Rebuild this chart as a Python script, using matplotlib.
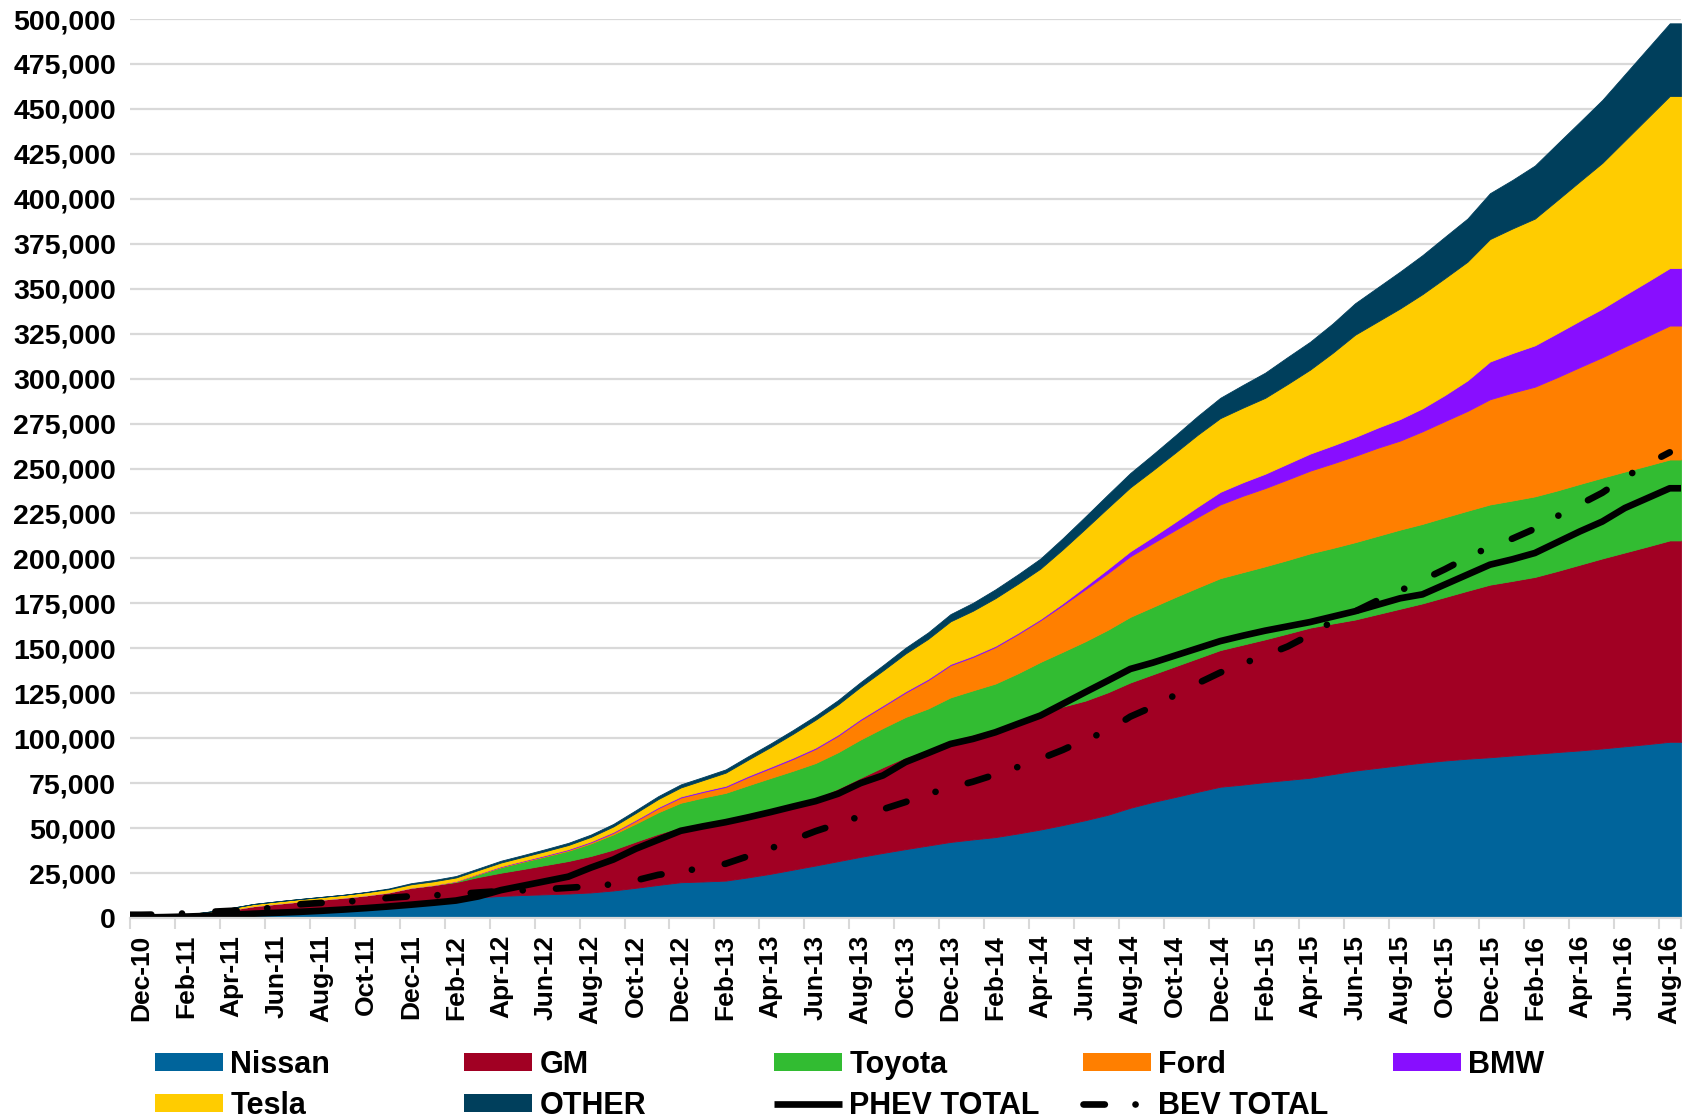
import numpy as np
import pandas as pd
import matplotlib
matplotlib.use("Agg")
import matplotlib.pyplot as plt
from matplotlib.patches import Patch
from matplotlib.lines import Line2D
from matplotlib.ticker import FuncFormatter

# ---------------- data (cumulative units sold, thousands) ----------------
months = pd.date_range("2010-12-01", "2016-08-01", freq="MS").strftime("%b-%y").tolist()

nissan = [0.1, 0.3, 0.6, 1.0, 1.5, 2.0, 2.5, 3.0, 3.6, 4.2,
          5.0, 6.0, 7.2, 8.3, 9.5, 11.5, 12.3, 12.8, 13.2, 13.6,
          14.2, 15.3, 16.8, 18.4, 19.9, 20.3, 20.8, 22.6, 24.6, 26.9,
          29.2, 31.6, 34.0, 36.2, 38.3, 40.3, 42.3, 43.7, 45.0, 47.0,
          49.2, 51.7, 54.4, 57.4, 61.3, 64.5, 67.3, 70.2, 73.0, 74.2,
          75.6, 76.8, 78.0, 80.0, 82.0, 83.5, 85.0, 86.4, 87.6, 88.6,
          89.4, 90.4, 91.3, 92.3, 93.2, 94.3, 95.5, 96.7, 98.0]
gm = [0.3, 0.5, 1.0, 1.9, 3.1, 4.6, 5.4, 6.1, 6.6, 7.1,
      7.6, 8.2, 9.6, 10.0, 10.5, 11.3, 12.9, 14.5, 16.3, 18.1,
      20.3, 22.7, 25.7, 28.4, 30.7, 32.7, 34.4, 35.4, 36.1, 36.6,
      37.6, 40.4, 44.0, 47.7, 51.1, 53.2, 56.4, 58.3, 60.2, 62.8,
      65.2, 65.9, 66.5, 68.1, 69.7, 71.0, 72.7, 74.3, 76.0, 77.8,
      79.4, 81.4, 83.5, 83.8, 84.0, 85.5, 87.0, 88.6, 90.9, 93.4,
      96.0, 97.1, 98.4, 100.7, 103.3, 105.7, 107.8, 109.9, 112.0]
toyota = [0, 0, 0, 0, 0, 0, 0, 0, 0, 0,
          0, 0, 0, 0, 0.3, 1.5, 3.0, 4.0, 4.8, 5.7,
          7.0, 8.5, 10.0, 12.0, 13.5, 14.0, 14.4, 15.8, 17.2, 18.4,
          19.4, 20.2, 21.3, 21.8, 22.4, 23.0, 24.0, 24.6, 25.2, 26.3,
          28.0, 30.5, 33.0, 34.8, 36.5, 37.5, 38.5, 39.3, 40.0, 40.3,
          40.6, 40.9, 41.3, 42.0, 43.0, 43.5, 44.0, 44.2, 44.4, 44.5,
          44.6, 44.7, 44.8, 44.8, 44.9, 44.9, 45.0, 45.0, 45.0]
ford = [0, 0, 0, 0, 0, 0, 0, 0, 0, 0,
        0, 0, 0.05, 0.1, 0.15, 0.2, 0.25, 0.3, 0.35, 0.45,
        0.6, 0.9, 1.6, 2.3, 2.9, 3.1, 3.3, 4.6, 5.5, 6.6,
        7.9, 9.2, 10.8, 12.0, 13.6, 15.8, 17.9, 18.6, 20.3, 21.8,
        23.2, 26.0, 29.0, 31.5, 33.7, 35.5, 37.3, 39.2, 41.0, 42.5,
        43.5, 44.8, 46.0, 47.0, 48.0, 49.0, 49.5, 51.5, 53.5, 55.5,
        58.5, 60.0, 61.0, 63.0, 65.0, 67.0, 69.5, 72.0, 74.5]
bmw = [0, 0, 0, 0, 0, 0, 0, 0, 0, 0,
       0, 0, 0, 0, 0.1, 0.2, 0.3, 0.35, 0.4, 0.45,
       0.5, 0.52, 0.55, 0.58, 0.6, 0.62, 0.65, 0.68, 0.7, 0.7,
       0.7, 0.7, 0.7, 0.7, 0.7, 0.7, 0.7, 0.7, 0.7, 0.7,
       0.7, 1.0, 1.6, 2.3, 2.8, 3.5, 4.5, 5.8, 7.0, 7.5,
       8.0, 8.8, 9.5, 10.0, 10.5, 11.2, 12.0, 12.8, 14.5, 17.0,
       21.0, 22.0, 23.0, 24.5, 25.8, 27.0, 28.7, 30.3, 32.0]
tesla = [0, 0.1, 0.3, 0.6, 1.0, 1.2, 1.3, 1.4, 1.5, 1.6,
         1.7, 1.8, 1.9, 2.0, 2.0, 2.0, 2.1, 2.1, 2.2, 2.3,
         2.5, 3.0, 3.8, 4.5, 5.0, 6.0, 7.3, 9.0, 11.0, 13.3,
         15.5, 16.7, 17.8, 19.3, 21.0, 22.2, 23.7, 25.0, 26.5, 27.3,
         28.0, 30.0, 32.0, 34.0, 35.5, 37.0, 38.5, 40.0, 41.0, 41.5,
         42.2, 44.3, 46.7, 51.5, 56.9, 59.0, 61.5, 63.5, 65.0, 66.0,
         68.1, 69.3, 70.5, 74.0, 77.5, 81.1, 85.9, 90.9, 95.7]
other = [0, 0, 0, 0, 0, 0, 0, 0, 0, 0,
         0.2, 0.4, 0.6, 0.7, 0.8, 0.9, 1.0, 1.0, 1.1, 1.2,
         1.3, 1.4, 1.5, 1.6, 1.7, 1.7, 1.8, 1.9, 2.0, 2.1,
         2.2, 2.4, 2.6, 2.9, 3.2, 3.6, 4.0, 4.4, 4.9, 5.2,
         5.6, 6.2, 6.8, 7.4, 8.0, 8.8, 9.6, 10.4, 11.3, 12.6,
         14.0, 15.0, 15.5, 16.3, 17.5, 19.0, 20.5, 21.7, 23.0, 24.0,
         25.5, 27.0, 29.5, 31.4, 33.1, 35.0, 36.8, 38.6, 40.4]
phev_total = [0.3, 0.5, 0.8, 1.2, 1.8, 2.4, 2.9, 3.4, 4.0, 4.7,
              5.5, 6.4, 7.4, 8.5, 9.7, 12.0, 15.5, 18.0, 20.5, 23.0,
              28.0, 32.5, 38.5, 43.5, 48.5, 51.0, 53.3, 56.0, 58.9, 62.0,
              65.0, 69.1, 75.0, 79.3, 86.7, 91.7, 96.8, 99.6, 103.3, 108.0,
              112.6, 119.1, 125.6, 132.0, 138.5, 142.0, 146.0, 150.0, 154.0, 157.0,
              159.8, 162.2, 164.6, 167.6, 170.6, 174.2, 177.8, 180.0, 185.5, 191.0,
              196.5, 199.5, 203.0, 209.0, 215.0, 220.5, 228.0, 233.5, 239.0]
bev_total = [1.8, 2.0, 2.6, 3.4, 4.0, 4.6, 6.0, 7.6, 8.4, 9.0,
             9.9, 11.2, 12.1, 12.6, 13.2, 14.2, 15.0, 15.4, 16.0, 16.8,
             17.6, 18.8, 20.9, 24.0, 25.7, 28.0, 30.2, 34.4, 38.7, 43.5,
             48.3, 52.4, 56.6, 60.5, 64.5, 69.0, 72.5, 75.8, 79.8, 84.0,
             88.5, 93.5, 99.3, 104.0, 112.0, 117.5, 124.0, 130.5, 136.5, 141.5,
             146.0, 151.0, 157.5, 165.0, 170.5, 176.6, 182.0, 188.0, 194.0, 200.5,
             206.5, 211.0, 216.5, 223.5, 230.0, 236.5, 245.0, 252.5, 259.0]

series_names = ["Nissan", "GM", "Toyota", "Ford", "BMW", "Tesla", "OTHER"]
series_values = [nissan, gm, toyota, ford, bmw, tesla, other]
series_colors = ["#00649B", "#A10023", "#32BC32", "#FF7F00", "#880EFF", "#FFCC00", "#003F5C"]
UNIT = 1000

# ---------------- styling ----------------
plt.rcParams["font.family"] = ["Liberation Sans", "DejaVu Sans"]
plt.rcParams["font.weight"] = "bold"

W, H = 1694, 1119
fig = plt.figure(figsize=(W / 100, H / 100), dpi=100)
L, R, T, B = 130, 1681, 19, 918
ax = fig.add_axes([L / W, 1 - B / H, (R - L) / W, (B - T) / H])

n = len(months)
x = np.arange(n)
# Excel-style: categories sit between tick marks; areas run flat to the plot edges
x_ext = np.r_[x[0] - 0.5, x, x[-1] + 0.5]

def ext(v):
    a = np.asarray(v, dtype=float) * UNIT
    return np.r_[a[0], a, a[-1]]

ax.stackplot(x_ext, *[ext(v) for v in series_values], colors=series_colors,
             linewidth=0.6, edgecolor="face", zorder=2)

LW = 4.8
bev_style = (0, (3.2, 4.6, 0.01, 5.0))
ax.plot(x_ext, ext(phev_total), color="black", lw=LW, solid_joinstyle="round",
        solid_capstyle="butt", zorder=3)
bev_arr = np.asarray(bev_total, dtype=float) * UNIT
ax.plot(np.r_[x[0] - 0.5, x], np.r_[bev_arr[0], bev_arr], color="black", lw=LW,
        linestyle=bev_style, dash_capstyle="round", dash_joinstyle="round", zorder=3)

ax.set_xlim(-0.5, n - 0.5)
ax.set_ylim(0, 500000)
ax.set_yticks(np.arange(0, 500001, 25000))
ax.yaxis.set_major_formatter(FuncFormatter(lambda v, p: f"{int(v):,}"))
ax.yaxis.grid(True, color="#D9D9D9", lw=1.6, zorder=0)
ax.set_axisbelow(True)

ax.set_xticks(x[::2])
ax.set_xticklabels(months[::2], rotation=90, fontsize=19, fontweight="bold")
ax.set_xticks(np.r_[np.arange(-0.5, n - 1, 2), n - 0.5], minor=True)
ax.tick_params(axis="x", which="major", length=0, pad=12)
ax.tick_params(axis="x", which="minor", length=8, width=1.5, color="#D9D9D9")
ax.tick_params(axis="y", length=0, pad=10, labelsize=20.5)
for lab in ax.get_yticklabels():
    lab.set_fontweight("bold")

for s in ["top", "right", "left"]:
    ax.spines[s].set_visible(False)
ax.spines["bottom"].set_color("#D9D9D9")
ax.spines["bottom"].set_linewidth(1.6)
ax.spines["bottom"].set_zorder(4)

# ---------------- legend (5 equally spaced columns, 2 rows) ----------------
patch_h = {name: Patch(facecolor=c, edgecolor="none") for name, c in zip(series_names, series_colors)}
phev_h = Line2D([], [], color="black", lw=LW, solid_capstyle="butt")
bev_h = Line2D([], [], color="black", lw=LW, linestyle=bev_style, dash_capstyle="round")
columns = [
    [(patch_h["Nissan"], "Nissan"), (patch_h["Tesla"], "Tesla")],
    [(patch_h["GM"], "GM"), (patch_h["OTHER"], "OTHER")],
    [(patch_h["Toyota"], "Toyota"), (phev_h, "PHEV TOTAL")],
    [(patch_h["Ford"], "Ford"), (bev_h, "BEV TOTAL")],
    [(patch_h["BMW"], "BMW")],
]
col_x = [155, 464, 774, 1083, 1393]
for cx, entries in zip(col_x, columns):
    fig.legend([e[0] for e in entries], [e[1] for e in entries],
               loc="upper left", bbox_to_anchor=(cx / W, 1 - 1050 / H),
               frameon=False, ncol=1, borderpad=0, borderaxespad=0,
               handlelength=2.22, handleheight=0.52, handletextpad=0.25,
               labelspacing=0.35, prop={"size": 22, "weight": "bold"})

fig.savefig("out.png", dpi=100)
